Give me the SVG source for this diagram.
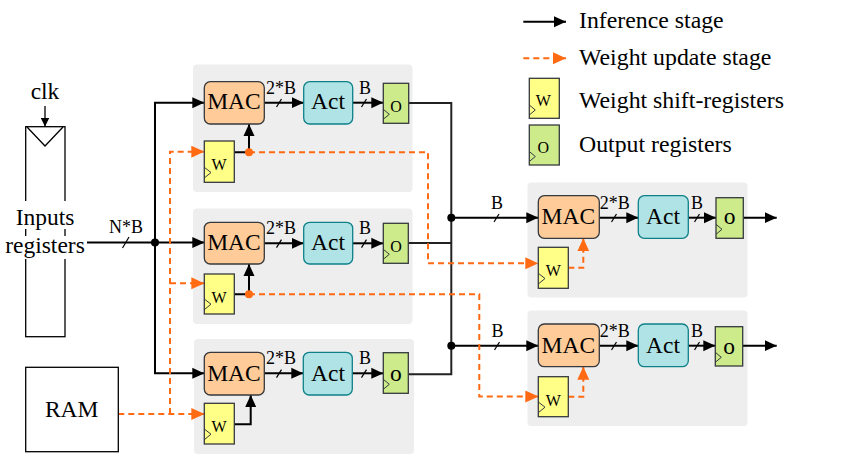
<svg xmlns="http://www.w3.org/2000/svg" width="859" height="459" viewBox="0 0 859 459" font-family="'Liberation Serif', 'DejaVu Serif', serif">
<defs>
<style>
text{font-family:'Liberation Serif','DejaVu Serif',serif;fill:#000}
.big{font-size:23.5px;text-anchor:middle}
.lbl{font-size:18px;text-anchor:middle}
.reg{font-size:16px;text-anchor:middle}
.leg{font-size:23.8px}
.bg{fill:#eeeeee;stroke:none}
.mac{fill:#ffcc99;stroke:#36393d;stroke-width:1.3}
.act{fill:#b0e3e6;stroke:#0e8088;stroke-width:1.3}
.w{fill:#ffff88;stroke:#36393d;stroke-width:1.3}
.o{fill:#cdeb8b;stroke:#36393d;stroke-width:1.3}
.clk{fill:none;stroke:#36393d;stroke-width:1}
.k{fill:none;stroke:#000;stroke-width:2}
.ko{fill:none;stroke:#222;stroke-width:2}
.or{fill:none;stroke:#ff6a13;stroke-width:2;stroke-dasharray:6 4}
.sl{stroke:#000;stroke-width:1.2}
.thin{fill:none;stroke:#000;stroke-width:1.3}
</style>
<marker id="ab" markerUnits="userSpaceOnUse" markerWidth="12" markerHeight="12" refX="12" refY="6" orient="auto" viewBox="0 0 12 12"><path d="M0,0.5 L12,6 L0,11.5 z" fill="#000"/></marker>
<marker id="abs" markerUnits="userSpaceOnUse" markerWidth="9" markerHeight="9" refX="9" refY="4.5" orient="auto" viewBox="0 0 9 9"><path d="M0,0 L9,4.5 L0,9 z" fill="#000"/></marker>
<marker id="ao" markerUnits="userSpaceOnUse" markerWidth="13" markerHeight="13" refX="13" refY="6.5" orient="auto" viewBox="0 0 13 13"><path d="M0,0.5 L13,6.5 L0,12.5 z" fill="#ff6a13"/></marker>
</defs>
<rect width="859" height="459" fill="#fff"/>

<g id="panels">
<rect class="bg" x="193" y="64.5" width="219.5" height="127.5" rx="4"/>
<rect class="bg" x="193" y="208.5" width="219.5" height="115.5" rx="4"/>
<rect class="bg" x="194" y="339" width="220" height="115" rx="4"/>
<rect class="bg" x="527.5" y="182.5" width="220" height="115" rx="4"/>
<rect class="bg" x="527.5" y="310.5" width="220" height="115.5" rx="4"/>
</g>

<g id="connectors">
<path class="thin" d="M45,106 V126.5" marker-end="url(#abs)"/>
<path class="k" d="M86,242.5 H155"/>
<line class="sl" x1="122.5" y1="248" x2="129" y2="237"/>
<path class="k" d="M155,242.5 V102.7 H204.3" marker-end="url(#ab)"/>
<path class="k" d="M155,242.5 H204.3" marker-end="url(#ab)"/>
<path class="k" d="M155,242.5 V373.3 H204.3" marker-end="url(#ab)"/>
<circle cx="155" cy="242.5" r="4" fill="#000"/>

<path class="k" d="M264,102.7 H303.7" marker-end="url(#ab)"/>
<line class="sl" x1="276.5" y1="107" x2="281.5" y2="99"/>
<path class="k" d="M352.7,102.7 H383.3" marker-end="url(#ab)"/>
<line class="sl" x1="361.5" y1="107" x2="366.5" y2="99"/>
<path class="k" d="M234.3,152.3 H249 V124" marker-end="url(#ab)"/>
<path class="k" d="M264,243.3 H303.7" marker-end="url(#ab)"/>
<line class="sl" x1="276.5" y1="247.6" x2="281.5" y2="239.6"/>
<path class="k" d="M352.7,243.3 H383.3" marker-end="url(#ab)"/>
<line class="sl" x1="361.5" y1="247.6" x2="366.5" y2="239.6"/>
<path class="k" d="M234.3,294.3 H249 V264" marker-end="url(#ab)"/>
<path class="k" d="M264.3,373.3 H303.3" marker-end="url(#ab)"/>
<line class="sl" x1="276.5" y1="377.6" x2="281.5" y2="369.6"/>
<path class="k" d="M352.3,373.3 H383.3" marker-end="url(#ab)"/>
<line class="sl" x1="361.5" y1="377.6" x2="366.5" y2="369.6"/>
<path class="k" d="M234.3,424.3 H250.7 V395" marker-end="url(#ab)"/>

<path class="ko" d="M408.7,103 H451.3 V374.3 H408.3"/>
<path class="ko" d="M408.3,243 H451.3"/>
<path class="k" d="M451.3,217.7 H538.3" marker-end="url(#ab)"/>
<line class="sl" x1="494" y1="222" x2="499" y2="214"/>
<path class="k" d="M451.3,345.7 H538.3" marker-end="url(#ab)"/>
<line class="sl" x1="494.5" y1="350" x2="499.5" y2="342"/>
<circle cx="451.3" cy="217.7" r="4" fill="#000"/>
<circle cx="451.3" cy="345.7" r="4" fill="#000"/>

<path class="k" d="M599.3,217.7 H638.3" marker-end="url(#ab)"/>
<line class="sl" x1="611.5" y1="222" x2="616.5" y2="214"/>
<path class="k" d="M688.3,217.7 H716" marker-end="url(#ab)"/>
<line class="sl" x1="694.5" y1="222" x2="699.5" y2="214"/>
<path class="k" d="M743.3,217.7 H776.7" marker-end="url(#ab)"/>
<path class="k" d="M599.3,345.7 H638.3" marker-end="url(#ab)"/>
<line class="sl" x1="611.5" y1="350" x2="616.5" y2="342"/>
<path class="k" d="M688.3,345.7 H715.3" marker-end="url(#ab)"/>
<line class="sl" x1="694.5" y1="350" x2="699.5" y2="342"/>
<path class="k" d="M742.7,345.7 H776.7" marker-end="url(#ab)"/>

<path class="or" d="M118.3,414 H204.3" marker-end="url(#ao)"/>
<path class="or" d="M170,414 V151.7 H204.3" marker-end="url(#ao)"/>
<path class="or" d="M170,283.3 H204.3" marker-end="url(#ao)"/>
<path class="or" d="M249,152.3 H428 V263.3 H538.3" marker-end="url(#ao)"/>
<path class="or" d="M249,294.3 H479.3 V396.5 H538.3" marker-end="url(#ao)"/>
<path class="or" d="M568.3,267.7 H583.3 V238.3" marker-end="url(#ao)"/>
<path class="or" d="M568.3,396.7 H583.3 V366.7" marker-end="url(#ao)"/>
<circle cx="249" cy="152.3" r="4" fill="#ff6a13"/>
<circle cx="249" cy="294.3" r="4" fill="#ff6a13"/>
</g>

<g id="labels">
<text class="lbl" x="126" y="233">N*B</text>
<text class="lbl" x="281" y="93.5">2*B</text>
<text class="lbl" x="365" y="93.5">B</text>
<text class="lbl" x="281" y="234">2*B</text>
<text class="lbl" x="365" y="234">B</text>
<text class="lbl" x="281" y="364">2*B</text>
<text class="lbl" x="365" y="364">B</text>
<text class="lbl" x="497" y="208.5">B</text>
<text class="lbl" x="614.7" y="209">2*B</text>
<text class="lbl" x="697" y="209">B</text>
<text class="lbl" x="497.5" y="337">B</text>
<text class="lbl" x="614.7" y="337">2*B</text>
<text class="lbl" x="697" y="337">B</text>
</g>

<g id="input-registers">
<rect x="25.7" y="126.7" width="39.3" height="210" fill="#fff" stroke="#000" stroke-width="1.3"/>
<polyline points="27,127 45,146 63,127" fill="none" stroke="#000" stroke-width="1.3"/>
<rect x="11" y="201" width="68" height="28" fill="#fff"/>
<rect x="2" y="236" width="85" height="23" fill="#fff"/>
<text class="big" x="45" y="225">Inputs</text>
<text class="big" x="45" y="252.7">registers</text>
</g>
<g id="clk"><text class="big" x="45" y="99.3">clk</text></g>

<g id="ram">
<rect x="25.7" y="367.3" width="92.6" height="84.4" fill="#fff" stroke="#000" stroke-width="1.3"/>
<text class="big" x="71.7" y="416.7">RAM</text>
</g>

<g id="mac1"><rect class="mac" x="204.3" y="81.7" width="60" height="42.3" rx="6"/><text class="big" x="234" y="109.3">MAC</text></g>
<g id="act1"><rect class="act" x="303.7" y="81.7" width="49" height="42.3" rx="6"/><text class="big" x="328" y="109.3">Act</text></g>
<g id="o1"><rect class="o" x="383.3" y="83.3" width="25.4" height="40"/><polyline class="clk" points="383.3,109.3 389.3,114.3 383.3,119.3"/><text class="reg" x="396" y="111.7">O</text></g>
<g id="w1"><rect class="w" x="204.3" y="141" width="30" height="41.3"/><polyline class="clk" points="204.3,167.3 211,172.5 204.3,178"/><text class="reg" x="219" y="170">W</text></g>

<g id="mac2"><rect class="mac" x="204.3" y="222.3" width="60" height="41.7" rx="6"/><text class="big" x="234" y="250">MAC</text></g>
<g id="act2"><rect class="act" x="303.7" y="222.3" width="49" height="41.7" rx="6"/><text class="big" x="328" y="250">Act</text></g>
<g id="o2"><rect class="o" x="383.3" y="223.3" width="25" height="40"/><polyline class="clk" points="383.3,249.3 389.3,254.3 383.3,259.3"/><text class="reg" x="396" y="252">O</text></g>
<g id="w2"><rect class="w" x="204.3" y="274" width="30" height="40"/><polyline class="clk" points="204.3,299 211,304.2 204.3,309.7"/><text class="reg" x="219" y="303">W</text></g>

<g id="mac3"><rect class="mac" x="204.3" y="352.3" width="60" height="42.7" rx="6"/><text class="big" x="234" y="381">MAC</text></g>
<g id="act3"><rect class="act" x="303.3" y="352.3" width="49" height="42.7" rx="6"/><text class="big" x="328" y="381">Act</text></g>
<g id="o3"><rect class="o" x="383.3" y="352.7" width="25" height="40.6"/><polyline class="clk" points="383.3,379.3 389.3,384.3 383.3,389.3"/><text class="big" x="395.8" y="381">o</text></g>
<g id="w3"><rect class="w" x="204.3" y="403.3" width="30" height="40.7"/><polyline class="clk" points="204.3,429 211,434.2 204.3,439.7"/><text class="reg" x="219" y="432.3">W</text></g>

<g id="mac4"><rect class="mac" x="538.3" y="195.7" width="61" height="42.6" rx="6"/><text class="big" x="568.3" y="224">MAC</text></g>
<g id="act4"><rect class="act" x="638.3" y="195.7" width="50" height="42.6" rx="6"/><text class="big" x="663" y="224">Act</text></g>
<g id="o4"><rect class="o" x="716" y="197.7" width="27.3" height="40.6"/><polyline class="clk" points="716,224.3 722,229.3 716,234.3"/><text class="big" x="729.5" y="224">o</text></g>
<g id="w4"><rect class="w" x="538.3" y="247.3" width="30" height="41"/><polyline class="clk" points="538.3,273.3 545,278.5 538.3,284"/><text class="reg" x="553.3" y="276.3">W</text></g>

<g id="mac5"><rect class="mac" x="538.3" y="324" width="61" height="42.7" rx="6"/><text class="big" x="568.3" y="353.3">MAC</text></g>
<g id="act5"><rect class="act" x="638.3" y="324" width="50" height="42.7" rx="6"/><text class="big" x="663" y="353.3">Act</text></g>
<g id="o5"><rect class="o" x="715.3" y="326.7" width="27.4" height="39.3"/><polyline class="clk" points="715.3,352.3 721.3,357.3 715.3,362.3"/><text class="big" x="729" y="353.5">o</text></g>
<g id="w5"><rect class="w" x="538.3" y="376.7" width="30" height="40"/><polyline class="clk" points="538.3,402 545,407.2 538.3,412.7"/><text class="reg" x="553.3" y="405.7">W</text></g>

<g id="legend">
<path class="k" d="M523.3,21.7 H566" marker-end="url(#ab)"/>
<text class="leg" x="579" y="28.3">Inference stage</text>
<path class="or" d="M523.3,58.3 H566" marker-end="url(#ao)"/>
<text class="leg" x="579" y="65">Weight update stage</text>
<rect class="w" x="529.3" y="78.3" width="30" height="40"/><polyline class="clk" points="529.3,105 535.3,110 529.3,115"/><text class="reg" x="543.3" y="106">W</text>
<text class="leg" x="579" y="108.3">Weight shift-registers</text>
<rect class="o" x="529.3" y="125" width="30" height="40"/><polyline class="clk" points="529.3,151.5 535.3,156.5 529.3,161.5"/><text class="reg" x="543.3" y="152.7">O</text>
<text class="leg" x="579" y="151.7">Output registers</text>
</g>
</svg>
